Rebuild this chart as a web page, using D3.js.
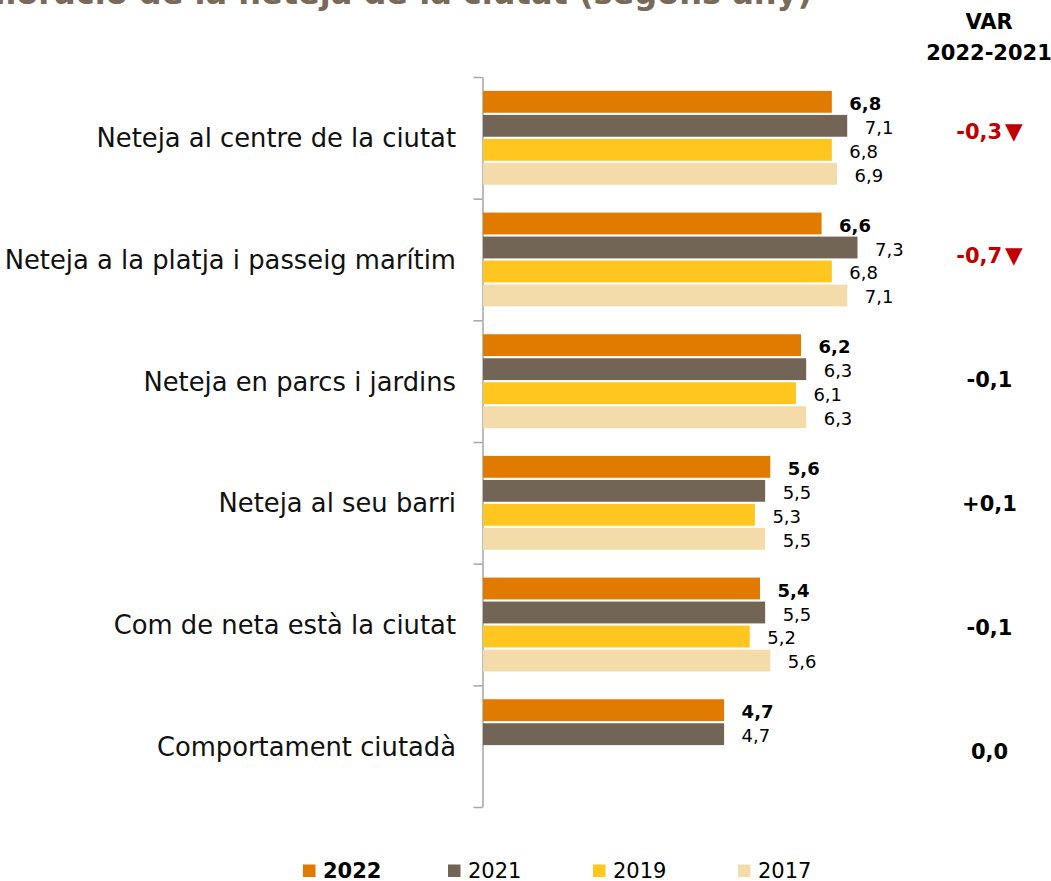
<!DOCTYPE html>
<html>
<head>
<meta charset="utf-8">
<script src="https://cdn.jsdelivr.net/npm/d3@7"></script>
<style>
  html, body { margin: 0; padding: 0; background: #fff; }
  svg { display: block; font-family: "DejaVu Sans", sans-serif; }
</style>
</head>
<body>
<svg id="chart" width="1051" height="881"></svg>
<script>
// Valoració de la neteja de la ciutat, per any d'enquesta
const categories = [
  "Neteja al centre de la ciutat",
  "Neteja a la platja i passeig marítim",
  "Neteja en parcs i jardins",
  "Neteja al seu barri",
  "Com de neta està la ciutat",
  "Comportament ciutadà"
];
const years = ["2022", "2021", "2019", "2017"];
const values2022 = [6.8, 6.6, 6.2, 5.6, 5.4, 4.7];
const values2021 = [7.1, 7.3, 6.3, 5.5, 5.5, 4.7];
const values2019 = [6.8, 6.8, 6.1, 5.3, 5.2, null];
const values2017 = [6.9, 7.1, 6.3, 5.5, 5.6, null];
// variacions destacades (baixada significativa)
const varHighlight = [true, true, false, false, false, false];

const titleText = "Valoració de la neteja de la ciutat (segons any)";
const varHeader = ["VAR", "2022-2021"];

const colors = {
  "2022": "#e07b00",
  "2021": "#736556",
  "2019": "#ffc61f",
  "2017": "#f3dcaa"
};
const seriesValues = {
  "2022": values2022,
  "2021": values2021,
  "2019": values2019,
  "2017": values2017
};

const fmt = v => d3.format(".1f")(v).replace(".", ",");
const fmtVar = v => {
  const r = Math.round(v * 10) / 10;
  const s = fmt(Math.abs(r));
  if (r > 0) return "+" + s;
  if (r < 0) return "-" + s;
  return s;
};

const svg = d3.select("#chart");

// escales
const plotTop = 77, plotBottom = 807;
const x = d3.scaleLinear().domain([0, 10]).range([483, 996]);
const y = d3.scaleBand().domain(categories).range([plotTop, plotBottom]).padding(0);
const ySeries = d3.scaleBand().domain(years).range([0, y.bandwidth()])
  .paddingInner(0.09).paddingOuter(0.58);
const yVar = d3.scaleBand().domain(categories).range([69, 813]).padding(0);
const legendX = d3.scaleBand().domain(years).range([303, 883]);

// títol (part superior fora del marc)
svg.append("text")
  .attr("x", 812).attr("y", 4)
  .attr("text-anchor", "end")
  .attr("font-size", 32).attr("font-weight", "bold")
  .attr("fill", "#786a5b")
  .text(titleText);

// eix vertical amb marques entre categories
const yIdx = d3.scaleLinear().domain([0, categories.length]).range([plotTop, plotBottom]);
const axis = svg.append("g")
  .attr("transform", "translate(482.5,0)")
  .call(d3.axisLeft(yIdx).tickValues(d3.range(categories.length + 1))
    .tickFormat("").tickSizeInner(9).tickSizeOuter(0));
axis.select(".domain").attr("stroke", "#a6a6a6").attr("stroke-width", 1.5);
axis.selectAll(".tick line").attr("stroke", "#a6a6a6").attr("stroke-width", 1.5);

// etiquetes de categoria
svg.append("g").selectAll("text").data(categories).join("text")
  .attr("x", 456)
  .attr("y", d => y(d) + y.bandwidth() / 2 + 9.5)
  .attr("text-anchor", "end")
  .attr("font-size", 25.8)
  .attr("fill", "#111")
  .text(d => d);

// barres
const barData = [];
categories.forEach((c, i) => {
  years.forEach(yr => {
    const v = seriesValues[yr][i];
    if (v != null) barData.push({ cat: c, year: yr, value: v });
  });
});

const gBars = svg.append("g");
gBars.selectAll("rect").data(barData).join("rect")
  .attr("x", x(0))
  .attr("y", d => y(d.cat) + ySeries(d.year))
  .attr("width", d => x(d.value) - x(0))
  .attr("height", ySeries.bandwidth())
  .attr("fill", d => colors[d.year]);

// valors de les barres
gBars.selectAll("text").data(barData).join("text")
  .attr("x", d => x(d.value) + 17.5)
  .attr("y", d => y(d.cat) + ySeries(d.year) + ySeries.bandwidth() / 2 + 8)
  .attr("font-size", 18)
  .attr("font-weight", d => d.year === "2022" ? "bold" : "normal")
  .attr("fill", "#000")
  .text(d => fmt(d.value));

// columna de variació 2022-2021
svg.append("g").selectAll("text").data(varHeader).join("text")
  .attr("x", 989)
  .attr("y", (d, i) => 28.5 + i * 31.5)
  .attr("text-anchor", "middle")
  .attr("font-size", 21).attr("font-weight", "bold")
  .attr("fill", "#000")
  .text(d => d);

const varData = categories.map((c, i) => ({
  cat: c,
  diff: values2022[i] - values2021[i],
  hi: varHighlight[i]
}));
const varText = svg.append("g").selectAll("text").data(varData).join("text")
  .attr("x", 989.5)
  .attr("y", d => yVar(d.cat) + yVar.bandwidth() / 2 + 7.8)
  .attr("text-anchor", "middle")
  .attr("font-size", 21).attr("font-weight", "bold")
  .attr("fill", d => d.hi ? "#c00000" : "#000");
varText.append("tspan").text(d => fmtVar(d.diff));
varText.filter(d => d.hi).append("tspan")
  .attr("dx", 3)
  .attr("font-size", 23)
  .text("▼");

// llegenda
const legend = svg.append("g").selectAll("g").data(years).join("g")
  .attr("transform", d => `translate(${legendX(d)},0)`);
legend.append("rect")
  .attr("x", 0).attr("y", 864.5)
  .attr("width", 12.5).attr("height", 12.5)
  .attr("fill", d => colors[d]);
legend.append("text")
  .attr("x", 20).attr("y", 878)
  .attr("font-size", 21)
  .attr("font-weight", d => d === "2022" ? "bold" : "normal")
  .attr("fill", "#000")
  .text(d => d);
</script>
</body>
</html>
